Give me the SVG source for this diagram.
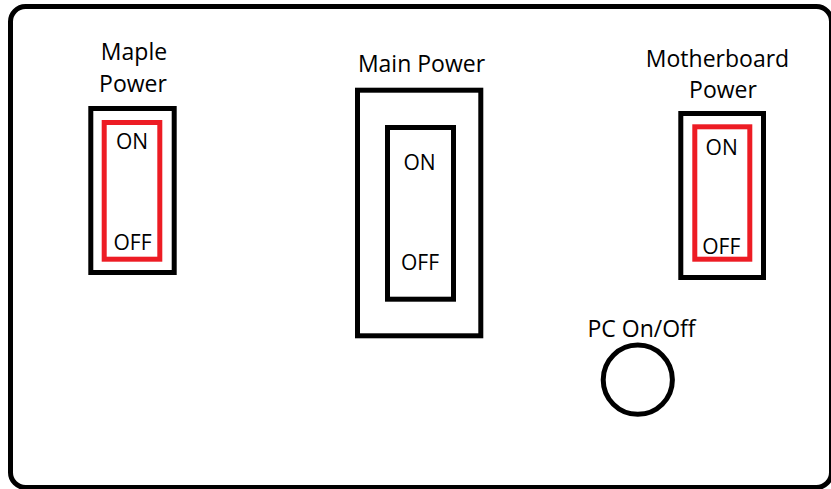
<svg xmlns="http://www.w3.org/2000/svg" width="831" height="489" viewBox="0 0 831 489">
  <style>
    .frame { fill: #ffffff; stroke: #000000; stroke-width: 5; }
    .box { fill: none; stroke: #000000; stroke-width: 5; }
    .red { fill: none; stroke: #ED1C24; stroke-width: 5; }
    .label { font-family: "Open Sans", "Noto Sans", sans-serif; font-size: 23px; fill: #000000; text-anchor: middle; }
    .state { font-family: "Open Sans", "Noto Sans", sans-serif; font-size: 21px; fill: #000000; text-anchor: middle; }
  </style>
  <rect x="0" y="0" width="831" height="489" fill="#ffffff"/>
  <g id="panel">
    <rect class="frame" x="10.5" y="6.5" width="821" height="481" rx="15" ry="15"/>
  </g>
  <g id="maple-power">
    <text class="label" x="134" y="60">Maple</text>
    <text class="label" x="133" y="91.5">Power</text>
    <rect class="box" x="90.8" y="108.5" width="83.4" height="164"/>
    <rect class="red" x="104.2" y="122.5" width="55.6" height="136.7"/>
    <text class="state" x="132" y="149">ON</text>
    <text class="state" x="132.5" y="249.5">OFF</text>
  </g>
  <g id="main-power">
    <text class="label" x="421.5" y="71.5">Main Power</text>
    <rect class="box" x="357.5" y="90.2" width="123.3" height="245.6"/>
    <rect class="box" x="387.5" y="127.5" width="66" height="171.7"/>
    <text class="state" x="419.5" y="169.5">ON</text>
    <text class="state" x="420" y="269.5">OFF</text>
  </g>
  <g id="motherboard-power">
    <text class="label" x="717.5" y="66.5">Motherboard</text>
    <text class="label" x="723" y="97.5">Power</text>
    <rect class="box" x="680.8" y="113.5" width="82.7" height="164"/>
    <rect class="red" x="694.8" y="126.8" width="55" height="132.4"/>
    <text class="state" x="721.7" y="155">ON</text>
    <text class="state" x="721.3" y="253.5">OFF</text>
  </g>
  <g id="pc-on-off">
    <text class="label" x="641.5" y="336.5">PC On/Off</text>
    <circle class="box" cx="637.8" cy="379.7" r="34.6"/>
  </g>
</svg>
